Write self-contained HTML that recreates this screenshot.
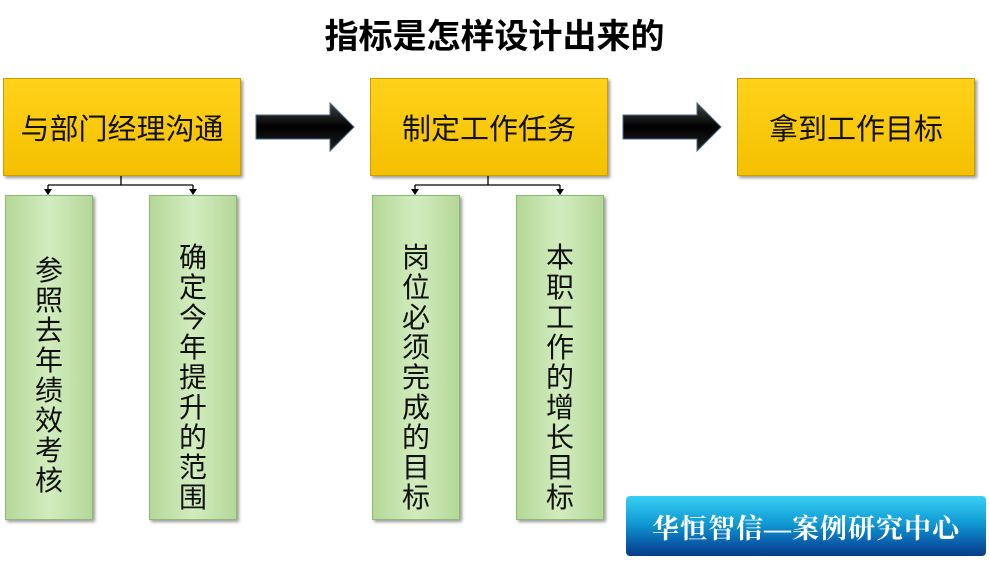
<!DOCTYPE html>
<html><head><meta charset="utf-8"><style>
body{margin:0;width:989px;height:564px;background:#fff;position:relative;overflow:hidden;font-family:"Liberation Sans","Noto Sans CJK SC",sans-serif}
.t{position:absolute;left:0;width:989px;top:9px;text-align:center;font-size:34px;font-weight:bold;color:#000}
.y{position:absolute;top:78px;width:236px;height:96px;background:linear-gradient(#ffd21a,#f5c000);border:1px solid #c9a000;box-shadow:2px 2px 3px #999;display:flex;align-items:center;justify-content:center;font-size:29px;color:#111}
.g{position:absolute;top:195px;width:88px;height:325px;background:linear-gradient(90deg,#b4d898,#d2ecbe 50%,#b4d898);border:1px solid #8fb870;box-shadow:2px 2px 3px #999;box-sizing:border-box;font-size:28px;color:#111;line-height:30px;padding-top:60px}
.g div{width:30px;margin:0 auto;text-align:center;word-break:break-all}
.bl{position:absolute;left:626px;top:496px;width:360px;height:60px;border-radius:4px;background:linear-gradient(#38d0f4,#109ad4 45%,#0a5aa8 80%,#063c86);color:#fff;font-size:27px;font-weight:bold;font-family:"Liberation Serif","Noto Serif CJK SC",serif;display:flex;align-items:center;justify-content:center;letter-spacing:1px}
</style></head><body>
<div class="t">指标是怎样设计出来的</div>
<div class="y" style="left:3px">与部门经理沟通</div>
<div class="y" style="left:370px">制定工作任务</div>
<div class="y" style="left:737px">拿到工作目标</div>
<svg width="989" height="564" style="position:absolute;left:0;top:0">
<defs><linearGradient id="a" x1="0" y1="0" x2="0" y2="1"><stop offset="0" stop-color="#444"/><stop offset=".5" stop-color="#000"/><stop offset="1" stop-color="#222"/></linearGradient></defs>
<polygon points="256,115 330,115 330,103 354,127 330,151 330,139 256,139" fill="url(#a)" stroke="#4a6a88" stroke-width="1"/>
<polygon points="623,115 697,115 697,103 721,127 697,151 697,139 623,139" fill="url(#a)" stroke="#4a6a88" stroke-width="1"/>
<g stroke="#000" stroke-width="1.3" fill="none">
<path d="M121,176V185M48,185H193M48,185V190M193,185V190"/>
<path d="M488,176V185M415,185H560M415,185V190M560,185V190"/>
</g>
<g fill="#000">
<polygon points="44,189 52,189 48,195"/><polygon points="189,189 197,189 193,195"/>
<polygon points="411,189 419,189 415,195"/><polygon points="556,189 564,189 560,195"/>
</g>
</svg>
<div class="g" style="left:5px"><div>参照去年绩效考核</div></div>
<div class="g" style="left:149px;padding-top:47px"><div>确定今年提升的范围</div></div>
<div class="g" style="left:372px;padding-top:47px"><div>岗位必须完成的目标</div></div>
<div class="g" style="left:516px;padding-top:47px"><div>本职工作的增长目标</div></div>
<div class="bl">华恒智信—案例研究中心</div>
</body></html>
